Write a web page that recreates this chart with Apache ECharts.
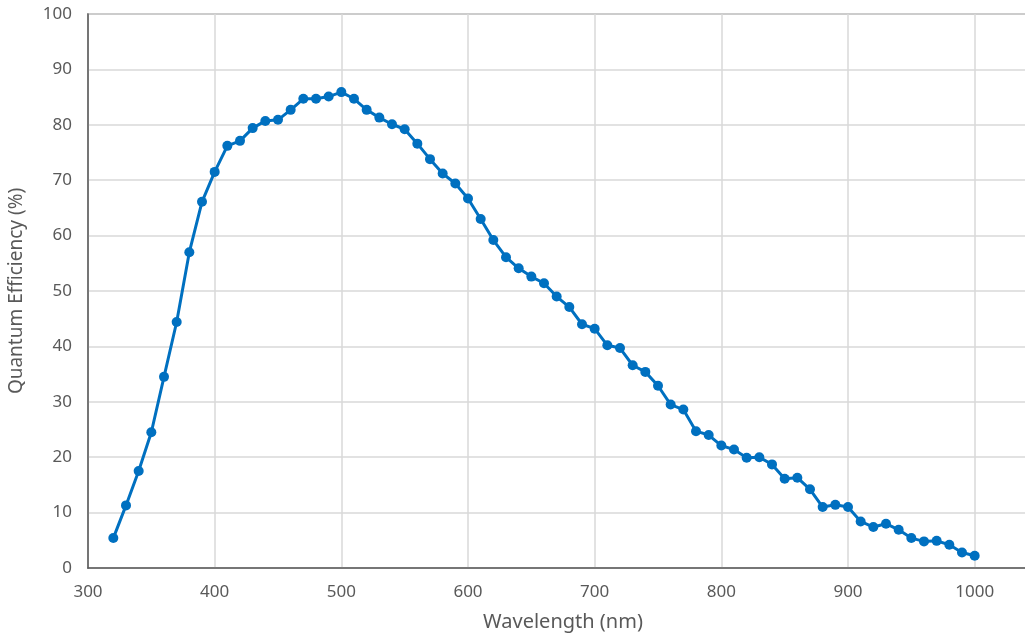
<!DOCTYPE html>
<html>
<head>
<meta charset="utf-8">
<script src="https://cdn.jsdelivr.net/npm/echarts@6/dist/echarts.min.js"></script>
<style>
html,body{margin:0;padding:0;background:#fff;}
#chart{width:1025px;height:635px;}
</style>
</head>
<body>
<div id="chart"></div>
<script>
const wavelengths = [320,330,340,350,360,370,380,390,400,410,420,430,440,450,460,470,480,490,500,510,520,530,540,550,560,570,580,590,600,610,620,630,640,650,660,670,680,690,700,710,720,730,740,750,760,770,780,790,800,810,820,830,840,850,860,870,880,890,900,910,920,930,940,950,960,970,980,990,1000];
const qe = [5.4,11.3,17.5,24.5,34.5,44.4,57.0,66.1,71.5,76.2,77.1,79.4,80.7,80.9,82.7,84.7,84.7,85.1,85.9,84.7,82.7,81.3,80.1,79.2,76.6,73.8,71.2,69.4,66.7,63.0,59.2,56.1,54.1,52.6,51.4,49.0,47.1,44.0,43.2,40.2,39.7,36.6,35.4,32.9,29.5,28.6,24.7,24.0,22.1,21.4,19.9,20.0,18.7,16.1,16.3,14.2,11.0,11.4,11.0,8.4,7.4,8.0,6.9,5.4,4.8,4.9,4.2,2.8,2.2];
const xTitle = 'Wavelength (nm)';
const yTitle = 'Quantum Efficiency (%)';

const chart = echarts.init(document.getElementById('chart'));
const font = 'Noto Sans';
const txt = '#595959';
chart.setOption({
  animation: false,
  grid: {left: 88, top: 14, width: 950, bottom: 67, show: true, borderColor: '#8a8a8a', borderWidth: 1.5,
         containLabel: false, outerBoundsMode: 'none'},
  xAxis: {
    type: 'value', min: 300, max: 1050, interval: 100,
    name: xTitle, nameLocation: 'middle', nameGap: 44,
    nameTextStyle: {fontFamily: font, fontSize: 20, color: txt},
    axisLine: {show: true, lineStyle: {color: '#595959', width: 1.5}},
    axisTick: {show: false},
    axisLabel: {fontFamily: font, fontSize: 17, color: txt, margin: 16, showMaxLabel: false, formatter: v => String(v)},
    splitLine: {show: true, lineStyle: {color: '#d9d9d9', width: 1.5}}
  },
  yAxis: {
    type: 'value', min: 0, max: 100, interval: 10,
    name: yTitle, nameLocation: 'middle', nameGap: 62,
    nameTextStyle: {fontFamily: font, fontSize: 19, color: txt},
    axisLine: {show: true, lineStyle: {color: '#595959', width: 1.5}},
    axisTick: {show: false},
    axisLabel: {fontFamily: font, fontSize: 17, color: txt, margin: 16},
    splitLine: {show: true, lineStyle: {color: '#d9d9d9', width: 1.5}}
  },
  series: [{
    type: 'line',
    data: wavelengths.map((w, i) => [w, qe[i]]),
    symbol: 'circle', symbolSize: 10,
    lineStyle: {color: '#0070C0', width: 3},
    itemStyle: {color: '#0070C0'}
  }]
});
</script>
</body>
</html>
